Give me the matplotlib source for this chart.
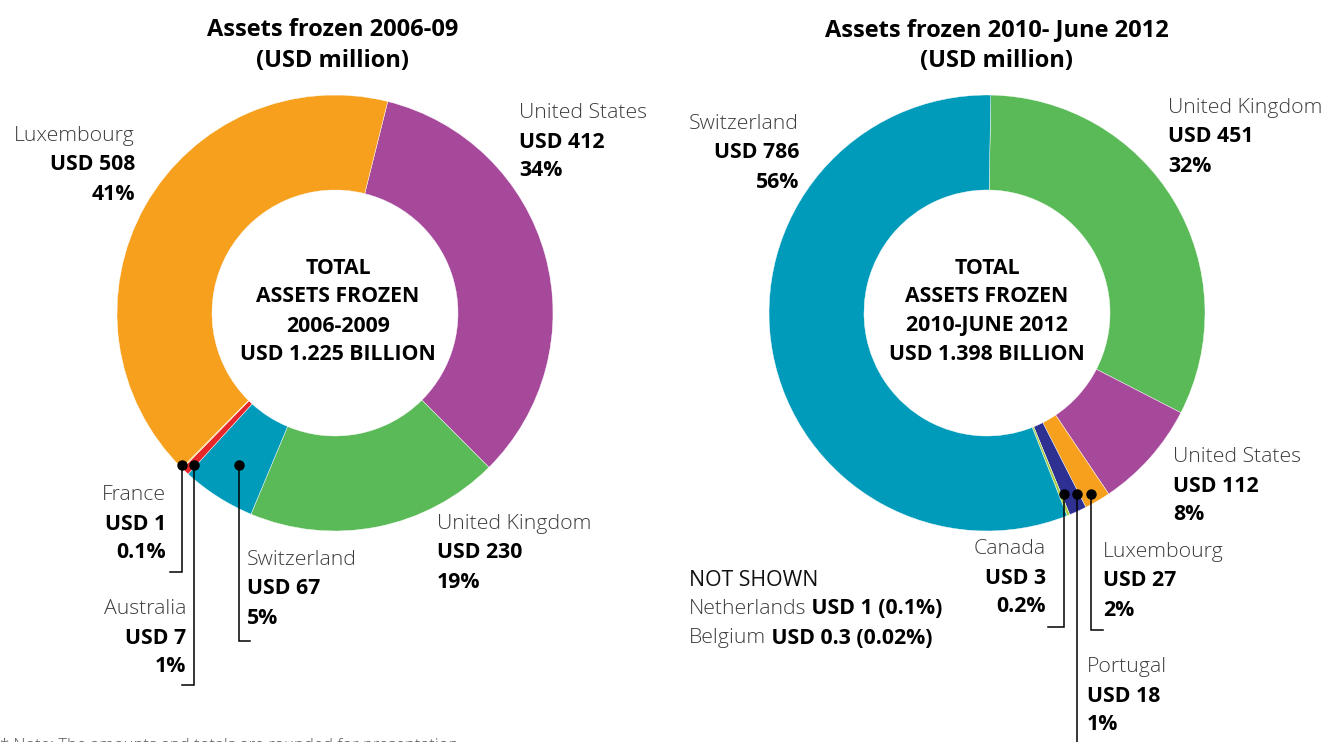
import matplotlib
matplotlib.use("Agg")
import matplotlib.pyplot as plt

plt.rcParams['font.family'] = ['Open Sans', 'DejaVu Sans']

W, H = 1326, 742

# 2006-09 (USD million), clockwise from the top
left_names = ["United States", "United Kingdom", "Switzerland", "Australia", "France", "Luxembourg"]
left_values = [412, 230, 67, 7, 1, 508]
left_pct = ["34%", "19%", "5%", "1%", "0.1%", "41%"]
left_colors = ["#A6499B", "#5BBA58", "#009BBA", "#E5262B", "#FCC54A", "#F6A01E"]

# 2010 - June 2012 (USD million), clockwise from the top
right_names = ["United Kingdom", "United States", "Luxembourg", "Portugal", "Canada", "Switzerland"]
right_values = [451, 112, 27, 18, 3, 786]
right_pct = ["32%", "8%", "2%", "1%", "0.2%", "56%"]
right_colors = ["#5BBA58", "#A6499B", "#F6A01E", "#2E3192", "#A8CB3A", "#009BBA"]

not_shown_names = ["Netherlands", "Belgium"]
not_shown_values = ["1", "0.3"]
not_shown_pct = ["0.1%", "0.02%"]

fig = plt.figure(figsize=(W / 100, H / 100), dpi=100)
ax = fig.add_axes([0, 0, 1, 1])

def Y(y):
    return H - y

def TY(y):
    # text rows, nudged to line up with the source
    return H - y - 3

NAME_C = "#3c3c3c"
FS = 15.3

def pie(values, colors, cx, cy, start):
    ax.pie(values, colors=colors, startangle=start, counterclock=False,
           radius=218, center=(cx, Y(cy)),
           wedgeprops=dict(width=95, edgecolor="white", linewidth=0.3))

pie(left_values, left_colors, 335, 313, 76)
pie(right_values, right_colors, 987, 313, 89)

ax.set_xlim(0, W)
ax.set_ylim(0, H)
ax.set_aspect('auto')
ax.axis('off')

def label(x, y, name, value, pct, ha):
    ax.text(x, TY(y), name, ha=ha, va='center', fontsize=FS, color=NAME_C, fontweight='light')
    ax.text(x, TY(y + 29), "USD " + str(value), ha=ha, va='center', fontsize=FS,
            fontweight='bold', color='black')
    ax.text(x, TY(y + 58), pct, ha=ha, va='center', fontsize=FS, fontweight='bold', color='black')

# titles
for cx, t in [(333, "Assets frozen 2006-09"), (997, "Assets frozen 2010- June 2012")]:
    ax.text(cx, TY(27), t, ha='center', va='center', fontsize=17, fontweight='bold')
    ax.text(cx, TY(58), "(USD million)", ha='center', va='center', fontsize=17, fontweight='bold')

# centre text
centre_left = ["TOTAL", "ASSETS FROZEN", "2006-2009", "USD 1.225 BILLION"]
centre_right = ["TOTAL", "ASSETS FROZEN", "2010-JUNE 2012", "USD 1.398 BILLION"]
for cx, lines in [(338, centre_left), (987, centre_right)]:
    for i, s in enumerate(lines):
        ax.text(cx, TY(265 + 29 * i), s, ha='center', va='center', fontsize=FS, fontweight='bold')

# labels, left chart
lpos = {"United States": (519, 110, 'left'), "United Kingdom": (437, 521, 'left'),
        "Switzerland": (247, 557, 'left'), "Australia": (186, 606, 'right'),
        "France": (166, 492, 'right'), "Luxembourg": (135, 133, 'right')}
for n, v, p in zip(left_names, left_values, left_pct):
    x, y, ha = lpos[n]
    label(x, y, n, v, p, ha)

rpos = {"United Kingdom": (1168, 105, 'left'), "United States": (1173, 454, 'left'),
        "Luxembourg": (1103, 549, 'left'), "Portugal": (1087, 664, 'left'),
        "Canada": (1046, 546, 'right'), "Switzerland": (799, 121, 'right')}
for n, v, p in zip(right_names, right_values, right_pct):
    x, y, ha = rpos[n]
    label(x, y, n, v, p, ha)

# leader lines
leaders = [
    [(182, 465), (182, 572), (170, 572)],
    [(194, 465), (194, 685), (182, 685)],
    [(239, 465), (239, 641), (250, 641)],
    [(1064, 494), (1064, 627), (1048, 627)],
    [(1077, 494), (1077, 760)],
    [(1091, 494), (1091, 630), (1103, 630)],
]
for pts in leaders:
    xs = [p[0] for p in pts]
    ys = [Y(p[1]) for p in pts]
    ax.plot(xs, ys, color='black', lw=1.1, solid_joinstyle='miter')
    ax.plot(xs[0], ys[0], 'o', color='black', ms=6.5)

# not shown
ax.text(689, TY(577), "NOT SHOWN", ha='left', va='center', fontsize=FS, color='#111111')
for i, (n, v, p) in enumerate(zip(not_shown_names, not_shown_values, not_shown_pct)):
    t = ax.text(689, TY(606 + 29 * i), n, ha='left', va='center', fontsize=FS,
                color=NAME_C, fontweight='light')
    ax.annotate(" USD %s (%s)" % (v, p), xy=(1, 0.5), xycoords=t, ha='left', va='center',
                fontsize=FS, fontweight='bold', color='black')

# footnote (cut off at the bottom edge, as in the source)
ax.text(0, Y(750), "* Note: The amounts and totals are rounded for presentation",
        ha='left', va='baseline', fontsize=12, color='#555555', fontweight='light')

fig.savefig("out.png", dpi=100)
